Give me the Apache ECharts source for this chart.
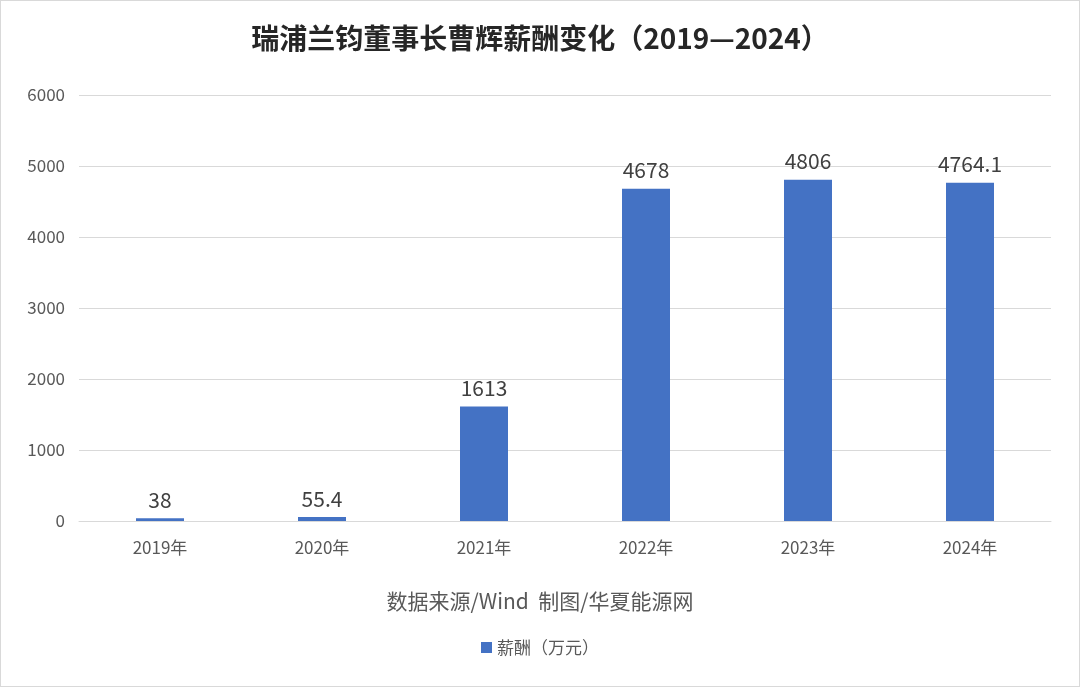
<!DOCTYPE html>
<html><head><meta charset="utf-8">
<script src="https://cdn.jsdelivr.net/npm/echarts@6/dist/echarts.min.js"></script>
<style>html,body{margin:0;padding:0;background:#fff}#c{width:1078px;height:685px;border:1px solid #d9d9d9}</style>
</head><body><div id="c"></div>
<script>
const categories=['2019年','2020年','2021年','2022年','2023年','2024年'];
const values=[38,55.4,1613,4678,4806,4764.1];
const seriesName='薪酬（万元）';
const chart=echarts.init(document.getElementById('c'));
chart.setOption({
  animation:false,
  title:{text:'瑞浦兰钧董事长曹辉薪酬变化（2019—2024）',left:'center',top:18,
    textStyle:{fontFamily:'Noto Sans CJK SC',fontSize:28,fontWeight:'bold',color:'#262626'}},
  grid:{left:78,right:28,top:94,bottom:165},
  legend:{bottom:25,left:'center',itemWidth:11,itemHeight:11,icon:'rect',
    textStyle:{fontFamily:'Noto Sans CJK SC',fontSize:17,color:'#595959'}},
  graphic:[{type:'text',left:'center',top:590,style:{text:'数据来源/Wind  制图/华夏能源网',
    font:'21px "Noto Sans CJK SC"',fill:'#595959'}}],
  xAxis:{type:'category',data:categories,axisTick:{show:false},
    axisLine:{lineStyle:{color:'#d9d9d9'}},
    axisLabel:{fontFamily:'Noto Sans CJK SC',fontSize:17,color:'#595959',margin:18}},
  yAxis:{type:'value',min:0,max:6000,interval:1000,
    splitLine:{lineStyle:{color:'#d9d9d9'}},
    axisLabel:{fontFamily:'Noto Sans CJK SC',fontSize:17,color:'#595959',margin:14,formatter:v=>String(v)}},
  series:[{name:seriesName,type:'bar',data:values,barWidth:48,
    itemStyle:{color:'#4472C4'},
    label:{show:true,position:'top',distance:8,fontFamily:'Noto Sans CJK SC',fontSize:21,color:'#404040'}}]
});
</script></body></html>
